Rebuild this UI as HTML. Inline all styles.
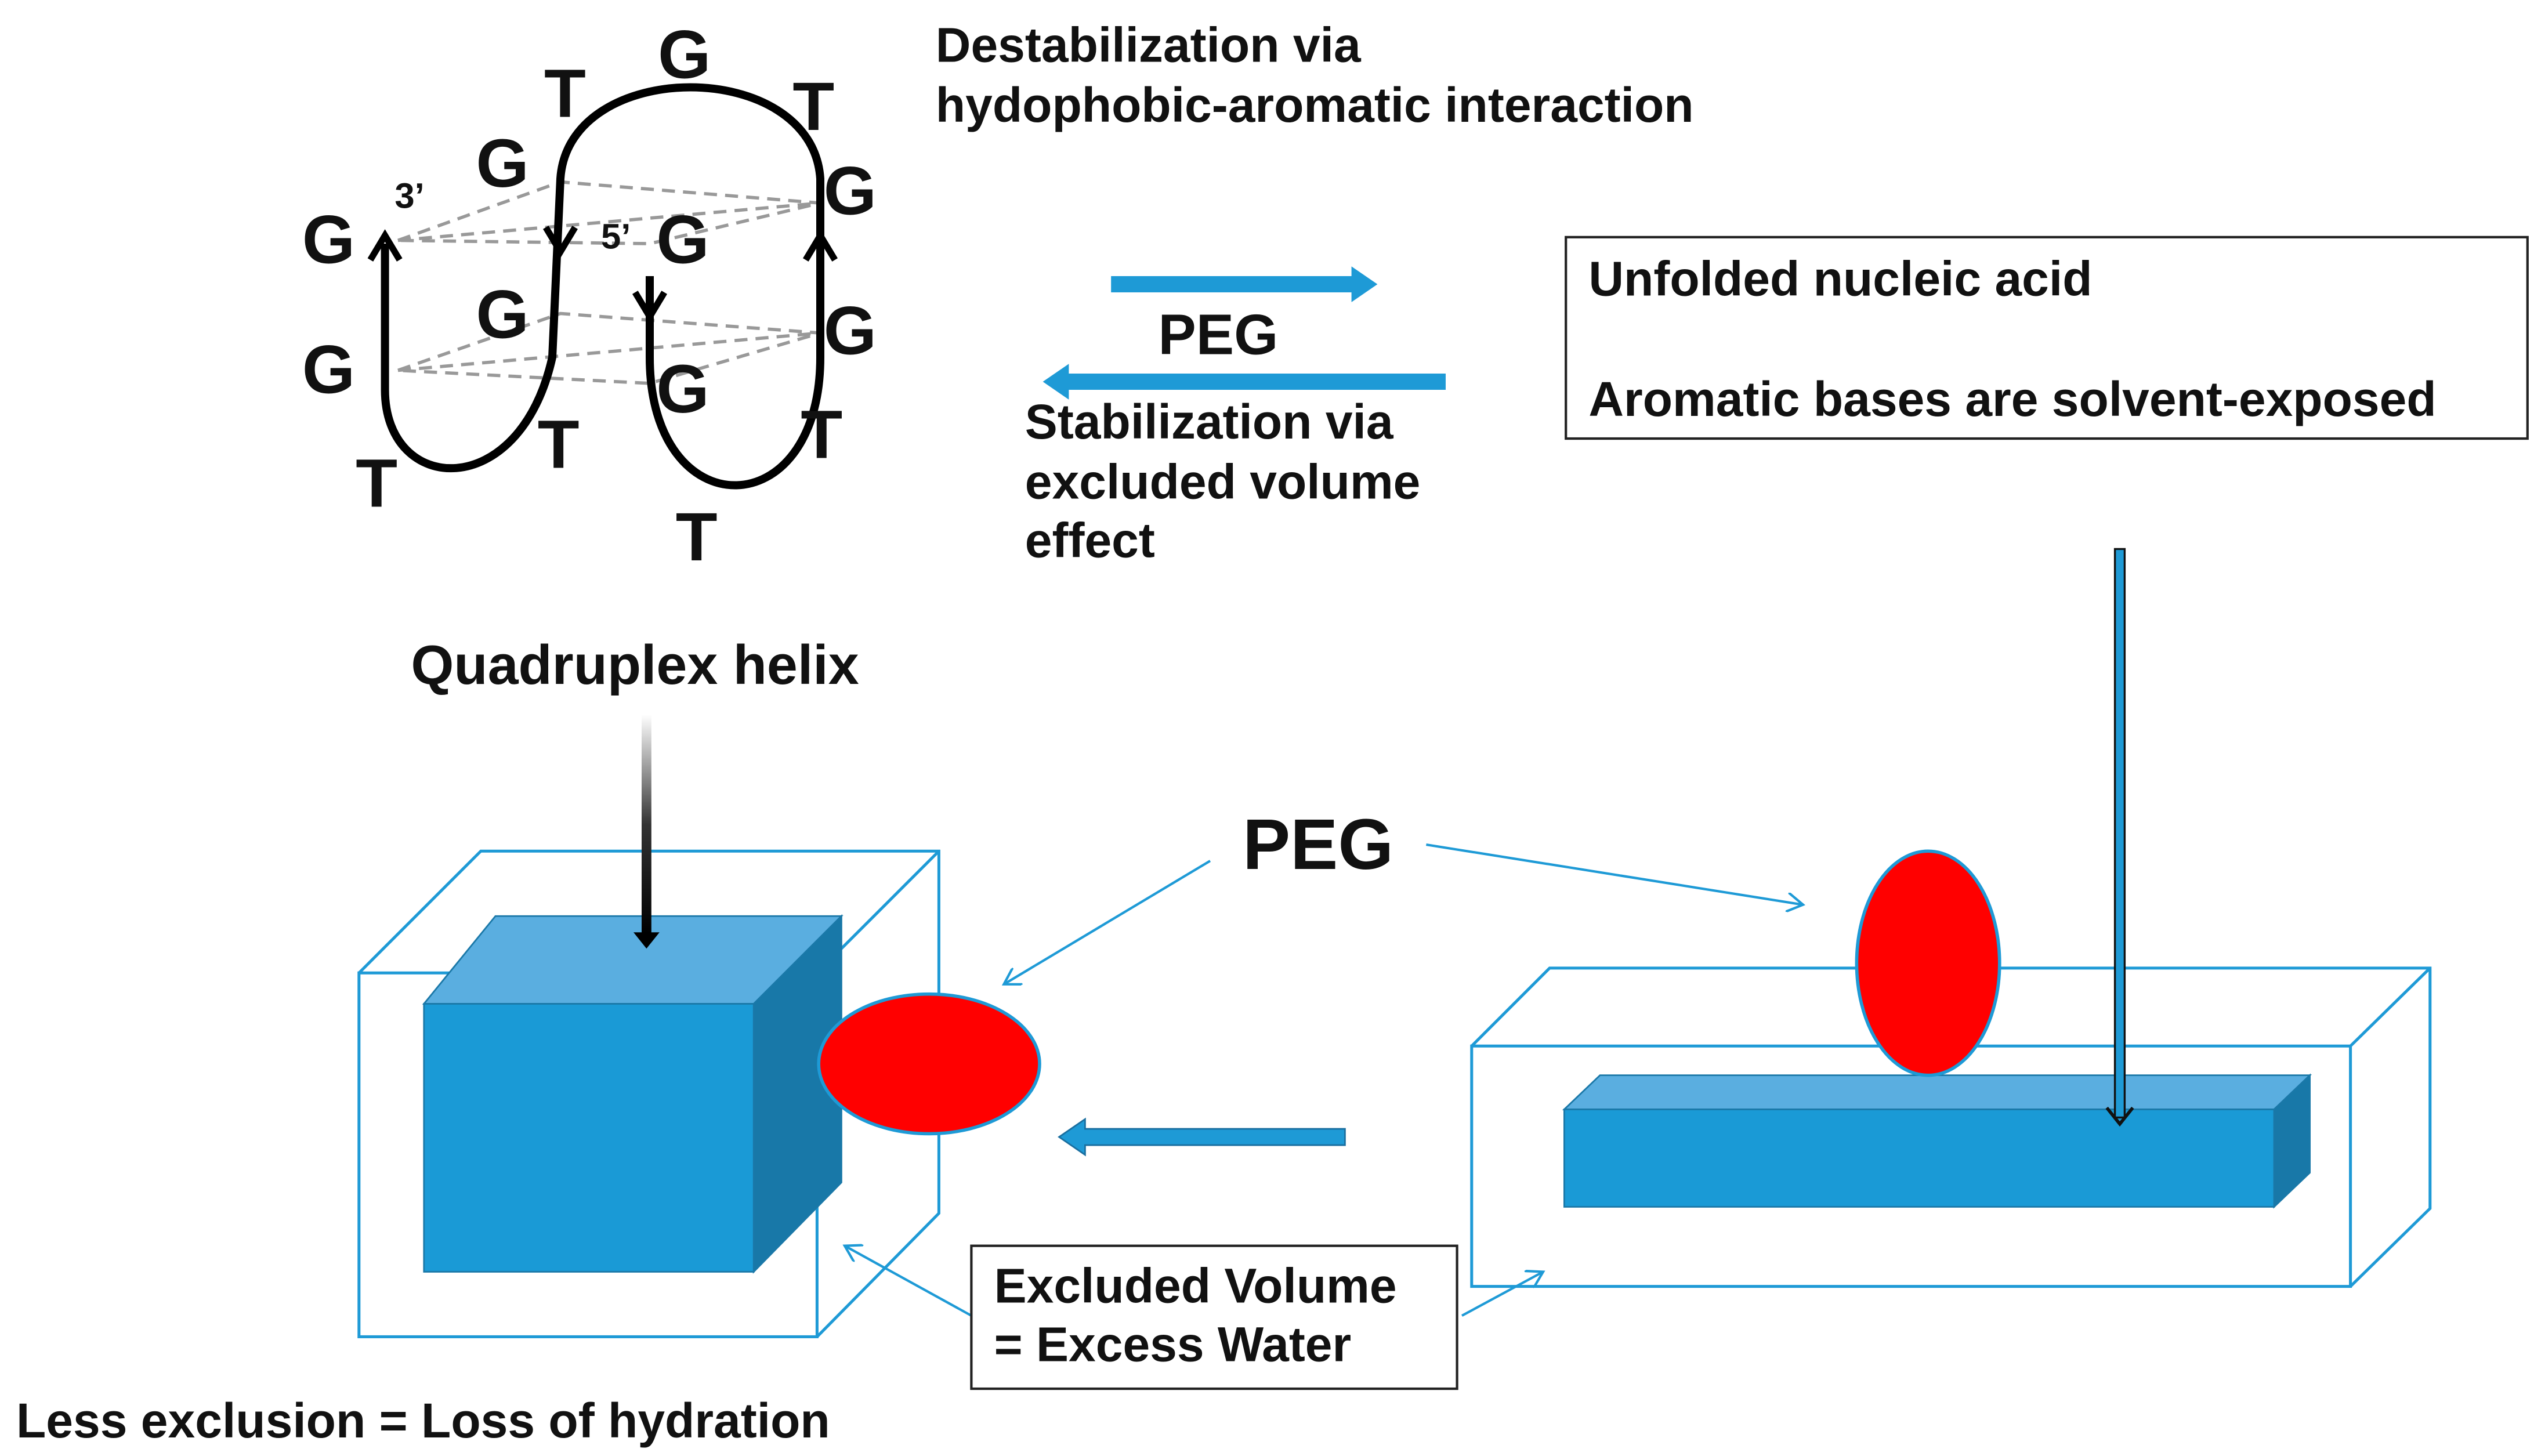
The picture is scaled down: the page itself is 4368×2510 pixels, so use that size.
<!DOCTYPE html>
<html><head><meta charset="utf-8"><style>
html,body{margin:0;padding:0;background:#fff;}
svg{display:block;}
text{font-family:"Liberation Sans",Arial,sans-serif;font-weight:bold;fill:#111;}
</style></head><body>
<svg width="4368" height="2510" viewBox="0 0 1560 896.4" xmlns="http://www.w3.org/2000/svg">
<defs>
<linearGradient id="bg" x1="0" y1="0" x2="0" y2="1"><stop offset="0" stop-color="#fff"/><stop offset="0.5" stop-color="#333"/><stop offset="1" stop-color="#000"/></linearGradient>
<marker id="ta" markerWidth="12" markerHeight="12" refX="10" refY="6" orient="auto" markerUnits="userSpaceOnUse"><path d="M0,0 L10,6 L0,12" fill="none" stroke="#1e9ad6" stroke-width="1.5"/></marker>
</defs>
<!-- quadruplex -->
<g stroke="#999" stroke-width="2" stroke-dasharray="8,5" fill="none">
<path d="M245,148 L345,112 L505,125 L400,150 Z"/>
<path d="M245,148 L505,125"/>
<path d="M245,228 L345,193 L505,205 L400,236 Z"/>
<path d="M245,228 L505,205"/>
</g>
<path d="M237,240 C237,305 320,310 340,220 L345,110 C350,35 500,35 505,110 L505,220 C505,325 400,325 400,220 L400,170" fill="none" stroke="#000" stroke-width="5"/>
<path d="M237,240 L237,150" stroke="#000" stroke-width="5"/>
<path d="M228,160 L237,145 L246,160" fill="none" stroke="#000" stroke-width="4"/>
<path d="M336,140 L345,155 L354,140" fill="none" stroke="#000" stroke-width="4"/>
<path d="M391,180 L400,195 L409,180" fill="none" stroke="#000" stroke-width="4"/>
<path d="M496,160 L505,145 L514,160" fill="none" stroke="#000" stroke-width="4"/>
<g font-size="42">
<text x="405" y="48">G</text><text x="335" y="72">T</text><text x="488" y="80">T</text>
<text x="293" y="115">G</text><text x="507" y="132">G</text><text x="186" y="162">G</text>
<text x="404" y="162">G</text><text x="293" y="208">G</text><text x="507" y="218">G</text>
<text x="186" y="242">G</text><text x="404" y="254">G</text><text x="331" y="288">T</text>
<text x="493" y="282">T</text><text x="219" y="312">T</text><text x="416" y="345">T</text>
</g>
<text x="243" y="128" font-size="22" font-weight="normal">3’</text>
<text x="370" y="153" font-size="22" font-weight="normal">5’</text>
<!-- texts -->
<g font-size="30">
<text x="576" y="38">Destabilization via</text>
<text x="576" y="75">hydophobic-aromatic interaction</text>
<text x="631" y="270">Stabilization via</text>
<text x="631" y="307">excluded volume</text>
<text x="631" y="343">effect</text>
<text x="10" y="885">Less exclusion = Loss of hydration</text>
</g>
<text x="713" y="218" font-size="35">PEG</text>
<text x="253" y="421" font-size="34">Quadruplex helix</text>
<text x="765" y="535" font-size="44">PEG</text>
<!-- blue arrows -->
<path d="M684,170 L832,170 L832,164 L848,175 L832,186 L832,180 L684,180 Z" fill="#1e9ad6"/>
<path d="M890,230 L658,230 L658,224 L642,235 L658,246 L658,240 L890,240 Z" fill="#1e9ad6"/>
<path d="M828,695 L668,695 L668,689 L652,700 L668,711 L668,705 L828,705 Z" fill="#1e9ad6" stroke="#1a6fa0" stroke-width="1"/>
<!-- box top right -->
<rect x="964" y="146" width="592" height="124" fill="none" stroke="#222" stroke-width="1.5"/>
<g font-size="30"><text x="978" y="182">Unfolded nucleic acid</text><text x="978" y="256">Aromatic bases are solvent-exposed</text></g>
<!-- left wireframe -->
<g fill="none" stroke="#1e9ad6" stroke-width="1.8">
<rect x="221" y="599" width="282" height="224"/>
<path d="M221,599 L296,524 L578,524 L578,747 L503,823 M503,599 L578,524"/>
</g>
<polygon points="261,618 305,564 518,564 464,618" fill="#5aaee0" stroke="#1a78a8" stroke-width="1"/>
<polygon points="464,618 518,564 518,728 464,783" fill="#1878a8" stroke="#1a78a8" stroke-width="1"/>
<rect x="261" y="618" width="203" height="165" fill="#1a9ad6" stroke="#1a78a8" stroke-width="1"/>
<ellipse cx="572" cy="655" rx="68" ry="43" fill="#ff0000" stroke="#1e9ad6" stroke-width="2"/>
<!-- gradient arrow -->
<rect x="395" y="440" width="6" height="135" fill="url(#bg)"/>
<path d="M390,574 L398,584 L406,574 Z" fill="#000"/>
<!-- right wireframe -->
<g fill="none" stroke="#1e9ad6" stroke-width="1.8">
<rect x="906" y="644" width="541" height="148"/>
<path d="M906,644 L954,596 L1496,596 L1496,744 L1447,792 M1447,644 L1496,596"/>
</g>
<polygon points="963,683 985,662 1422,662 1400,683" fill="#5aaee0" stroke="#1a78a8" stroke-width="1"/>
<polygon points="1400,683 1422,662 1422,722 1400,743" fill="#1878a8" stroke="#1a78a8" stroke-width="1"/>
<rect x="963" y="683" width="437" height="60" fill="#1a9ad6" stroke="#1a78a8" stroke-width="1"/>
<ellipse cx="1187" cy="593" rx="44" ry="69" fill="#ff0000" stroke="#1e9ad6" stroke-width="2"/>
<!-- vertical arrow right -->
<rect x="1302" y="338" width="6" height="350" fill="#1e9ad6" stroke="#111" stroke-width="1.2"/>
<path d="M1297,682 L1305,692 L1313,682" fill="none" stroke="#111" stroke-width="2"/>
<!-- thin pointer lines -->
<g stroke="#1e9ad6" stroke-width="1.5" fill="none" marker-end="url(#ta)">
<path d="M745,530 L618,606"/>
<path d="M878,520 L1110,557"/>
<path d="M598,810 L520,767"/>
<path d="M900,810 L950,783"/>
</g>
<rect x="598" y="767" width="299" height="88" fill="#fff" stroke="#222" stroke-width="1.5"/>
<g font-size="30"><text x="612" y="802">Excluded Volume</text><text x="612" y="838">= Excess Water</text></g>
</svg>
</body></html>
